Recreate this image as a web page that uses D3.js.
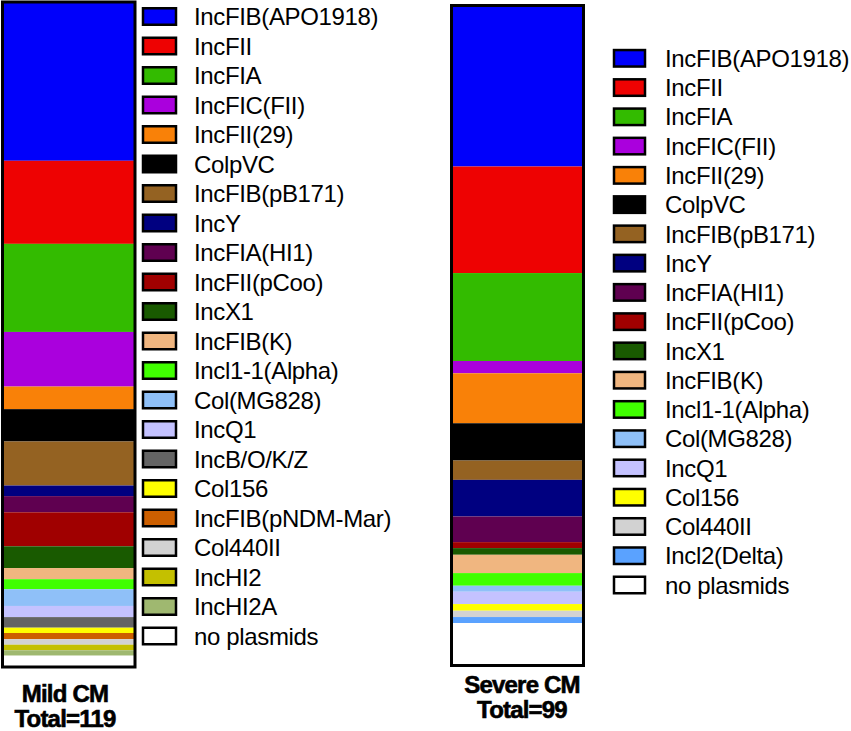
<!DOCTYPE html>
<html>
<head>
<meta charset="utf-8">
<script src="https://cdn.jsdelivr.net/npm/d3@7"></script>
<style>
  html, body { margin: 0; padding: 0; background: #fff; }
  svg { display: block; font-family: "Liberation Sans", Arial, Helvetica, sans-serif; }
</style>
</head>
<body>
<div id="chart"></div>
<script>
// Plasmid replicon composition, mild vs severe CM (stacked single bars)

const mildNames = ['IncFIB(APO1918)','IncFII','IncFIA','IncFIC(FII)','IncFII(29)','ColpVC','IncFIB(pB171)','IncY',
  'IncFIA(HI1)','IncFII(pCoo)','IncX1','IncFIB(K)','Incl1-1(Alpha)','Col(MG828)','IncQ1','IncB/O/K/Z','Col156',
  'IncFIB(pNDM-Mar)','Col440II','IncHI2','IncHI2A','no plasmids'];
const mildValues = [28.3,14.9,15.8,9.8,4.05,5.8,7.9,1.9,2.9,6.1,3.9,2.0,1.8,3.0,2.0,1.9,0.95,1.1,1.0,1.0,0.97,1.85];

const severeNames = ['IncFIB(APO1918)','IncFII','IncFIA','IncFIC(FII)','IncFII(29)','ColpVC','IncFIB(pB171)','IncY',
  'IncFIA(HI1)','IncFII(pCoo)','IncX1','IncFIB(K)','Incl1-1(Alpha)','Col(MG828)','IncQ1','Col156','Col440II',
  'Incl2(Delta)','no plasmids'];
const severeValues = [24.1,16,13.2,1.85,7.5,5.6,2.9,5.5,3.85,0.9,1.0,2.75,1.9,0.9,1.85,1.0,0.95,0.9,6.3];

const groupLabels = ['Mild CM','Severe CM'];
const groupTotals = ['Total=119','Total=99'];

const allNames = ['IncFIB(APO1918)','IncFII','IncFIA','IncFIC(FII)','IncFII(29)','ColpVC','IncFIB(pB171)','IncY',
  'IncFIA(HI1)','IncFII(pCoo)','IncX1','IncFIB(K)','Incl1-1(Alpha)','Col(MG828)','IncQ1','IncB/O/K/Z','Col156',
  'IncFIB(pNDM-Mar)','Col440II','IncHI2','IncHI2A','Incl2(Delta)','no plasmids'];
const allColors = ['#0000fb','#ee0202','#33bb00','#aa00dd','#f98108','#000000','#946222','#000080',
  '#5f0050','#a00000','#195a00','#f0b680','#40ff00','#8fc0f8','#c4c2ff','#646464','#ffff00',
  '#cc5f00','#d2d2d2','#c4c000','#9fb870','#5aa2ff','#ffffff'];

(function(){
  const width = 851, height = 731;
  const color = d3.scaleOrdinal().domain(allNames).range(allColors);

  const svg = d3.select('#chart').append('svg')
    .attr('width', width)
    .attr('height', height);

  // per-panel geometry
  const panels = [
    {names: mildNames, values: mildValues, label: groupLabels[0], total: groupTotals[0],
     barX: 2.5, barW: 132.5, barTop: 2, barBot: 667, segTop: 3, segBot: 666,
     swX: 143, swW: 33, textX: 194, legTop: 16.5, legBot: 636,
     labX: 65, labY: 702, totY: 727},
    {names: severeNames, values: severeValues, label: groupLabels[1], total: groupTotals[1],
     barX: 451.5, barW: 132, barTop: 5.5, barBot: 665.5, segTop: 6, segBot: 665,
     swX: 614, swW: 31, textX: 665, legTop: 58.3, legBot: 585,
     labX: 522, labY: 692.5, totY: 717.5}
  ];

  panels.forEach(p=>{
    const g = svg.append('g');
    const ends = d3.cumsum(p.values);
    const segs = p.names.map((n,i)=>({name:n, y0: ends[i]-p.values[i], y1: ends[i]}));
    const y = d3.scaleLinear().domain([0, d3.sum(p.values)]).range([p.segTop, p.segBot]);

    g.selectAll('rect.seg')
      .data(segs)
      .join('rect')
      .attr('class','seg')
      .attr('x', p.barX)
      .attr('width', p.barW)
      .attr('y', d=>y(d.y0))
      .attr('height', d=>y(d.y1)-y(d.y0))
      .attr('fill', d=>color(d.name));

    g.append('rect')
      .attr('x', p.barX)
      .attr('y', p.barTop)
      .attr('width', p.barW)
      .attr('height', p.barBot-p.barTop)
      .attr('fill','none')
      .attr('stroke','#000')
      .attr('stroke-width',3);

    // legend
    const ly = d3.scalePoint().domain(p.names).range([p.legTop, p.legBot]);
    const items = g.selectAll('g.leg')
      .data(p.names)
      .join('g')
      .attr('class','leg')
      .attr('transform', d=>`translate(0,${ly(d)})`);
    items.append('rect')
      .attr('x', p.swX)
      .attr('y', -8.25)
      .attr('width', p.swW)
      .attr('height', 16.5)
      .attr('fill', d=>color(d))
      .attr('stroke','#000')
      .attr('stroke-width',2.5);
    items.append('text')
      .attr('x', p.textX)
      .attr('dy','0.36em')
      .attr('fill','#000')
      .style('font-size','24px')
      .style('letter-spacing','-0.35px')
      .text(d=>d);

    // group labels under bar (slight stroke to mimic the heavy bold face)
    [[p.label, p.labY],[p.total, p.totY]].forEach(([txt, yy])=>{
      g.append('text')
        .attr('x', p.labX).attr('y', yy)
        .attr('text-anchor','middle')
        .attr('fill','#000')
        .attr('stroke','#000')
        .attr('stroke-width',0.6)
        .style('font-size','24px').style('font-weight','bold')
        .style('letter-spacing','-0.8px')
        .text(txt);
    });
  });
})();
</script>
</body>
</html>
